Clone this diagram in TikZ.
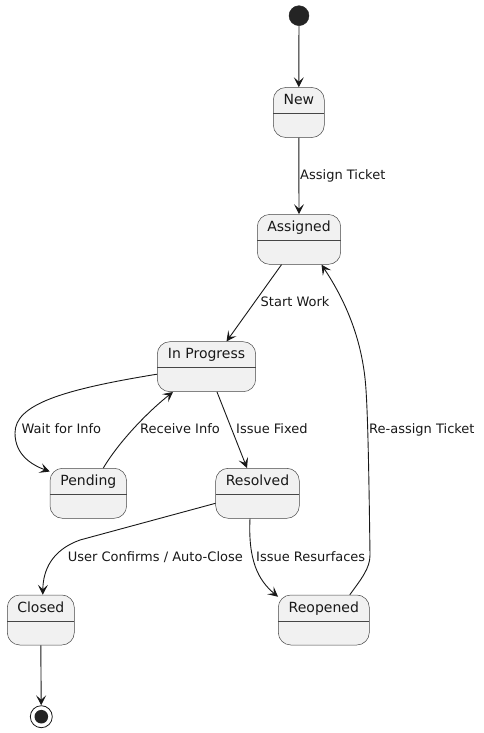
\documentclass[tikz,border=0pt]{standalone}
\usepackage{fontspec}
\setmainfont{DejaVu Sans}
\usetikzlibrary{arrows.meta}
\definecolor{ink}{HTML}{181818}
\definecolor{stfill}{HTML}{F1F1F1}
\begin{document}
\begin{tikzpicture}[x=1pt,y=-1pt,
  statebox/.style={draw=ink!80, line width=0.5pt, fill=stfill, rounded corners=12.5pt, inner sep=0pt, minimum height=50pt},
  sepline/.style={draw=ink!80, line width=0.5pt},
  ttl/.style={anchor=base, inner sep=0pt, font=\fontsize{14}{16}\selectfont, text=ink},
  lbl/.style={anchor=base west, inner sep=0pt, font=\fontsize{13}{15}\selectfont, text=ink},
  arr/.style={draw=ink, line width=0.9pt, -{Stealth[length=10pt,width=10pt,inset=4.5pt]}}
]
\useasboundingbox (0,0) rectangle (483,733);

% start / end
\node[circle, fill=ink!95, draw=ink!95, minimum size=20pt, inner sep=0pt] (start) at (299,15.7) {};
\node[circle, fill=white, draw=ink, line width=0.8pt, minimum size=22pt, inner sep=0pt] (end) at (41.3,716.7) {};
\fill[ink!95] (end.center) circle (6.8pt);

% states
\node[statebox, minimum width=51pt] (new) at (298.8,112.5) {};
\draw[sepline] (273.3,113.5) -- (324.3,113.5);
\node[ttl] (newt) at (298.8,104.5) {New};

\node[statebox, minimum width=83.4pt] (assigned) at (299,239.4) {};
\draw[sepline] (257.3,240.3) -- (340.7,240.3);
\node[ttl] (assignedt) at (299,231.5) {Assigned};

\node[statebox, minimum width=98.4pt] (inprog) at (206.5,366.7) {};
\draw[sepline] (157.3,367.7) -- (255.7,367.7);
\node[ttl] (inprogt) at (206.5,358.8) {In Progress};

\node[statebox, minimum width=76.6pt] (pending) at (88.3,493.3) {};
\draw[sepline] (50,494.2) -- (126.6,494.2);
\node[ttl] (pendingt) at (88.3,485.4) {Pending};

\node[statebox, minimum width=83.6pt] (resolved) at (257.5,493.3) {};
\draw[sepline] (215.7,494.2) -- (299.3,494.2);
\node[ttl] (resolvedt) at (257.5,485.4) {Resolved};

\node[statebox, minimum width=67pt] (closed) at (40.8,620) {};
\draw[sepline] (7.3,621) -- (74.3,621);
\node[ttl] (closedt) at (40.8,612) {Closed};

\node[statebox, minimum width=91pt] (reopened) at (323.8,620) {};
\draw[sepline] (278.3,621) -- (369.3,621);
\node[ttl] (reopenedt) at (323.8,612) {Reopened};

% connectors
\draw[arr] (start) -- (new.north);
\draw[arr] (new.south) -- (assigned.north);
\draw[arr] ([xshift=-17.5pt]assigned.south) -- ([xshift=20pt]inprog.north);
\draw[arr] ([yshift=-7.5pt]inprog.west) .. controls (60,390) and (15,405) .. (15,433)
  .. controls (15,455) and (32,465) .. ([yshift=-3.5pt]pending.north west);
\draw[arr] ([xshift=15pt]pending.north) .. controls (120,440) and (150,410) .. ([xshift=-33.5pt]inprog.south);
\draw[arr] ([xshift=10.5pt]inprog.south) -- ([xshift=-10.5pt]resolved.north);
\draw[arr] ([yshift=-10pt]resolved.west) -- (80,540) .. controls (52,550) and (43,570) .. ([xshift=2pt]closed.north);
\draw[arr] ([xshift=-7.5pt]resolved.south) .. controls (248,560) and (258,580) .. ([yshift=-2pt]reopened.north west);
\draw[arr] ([xshift=26pt]reopened.north) .. controls (362,578) and (370,568) .. (370,555)
  .. controls (369,480) and (368,420) .. (366,390)
  .. controls (363,340) and (345,300) .. ([xshift=22.5pt]assigned.south);
\draw[arr] (closed.south) -- (end);

% labels
\node[lbl] (l1) at (300,179.5) {Assign Ticket};
\node[lbl] (l2) at (260.5,306.5) {Start Work};
\node[lbl] (l3) at (21.5,433.5) {Wait for Info};
\node[lbl] (l4) at (140,433.5) {Receive Info};
\node[lbl] (l5) at (236,433.5) {Issue Fixed};
\node[lbl] (l6) at (67.7,561) {User Confirms / Auto-Close};
\node[lbl] (l7) at (256,561) {Issue Resurfaces};
\node[lbl] (l8) at (369,433.5) {Re-assign Ticket};
\end{tikzpicture}
\end{document}
